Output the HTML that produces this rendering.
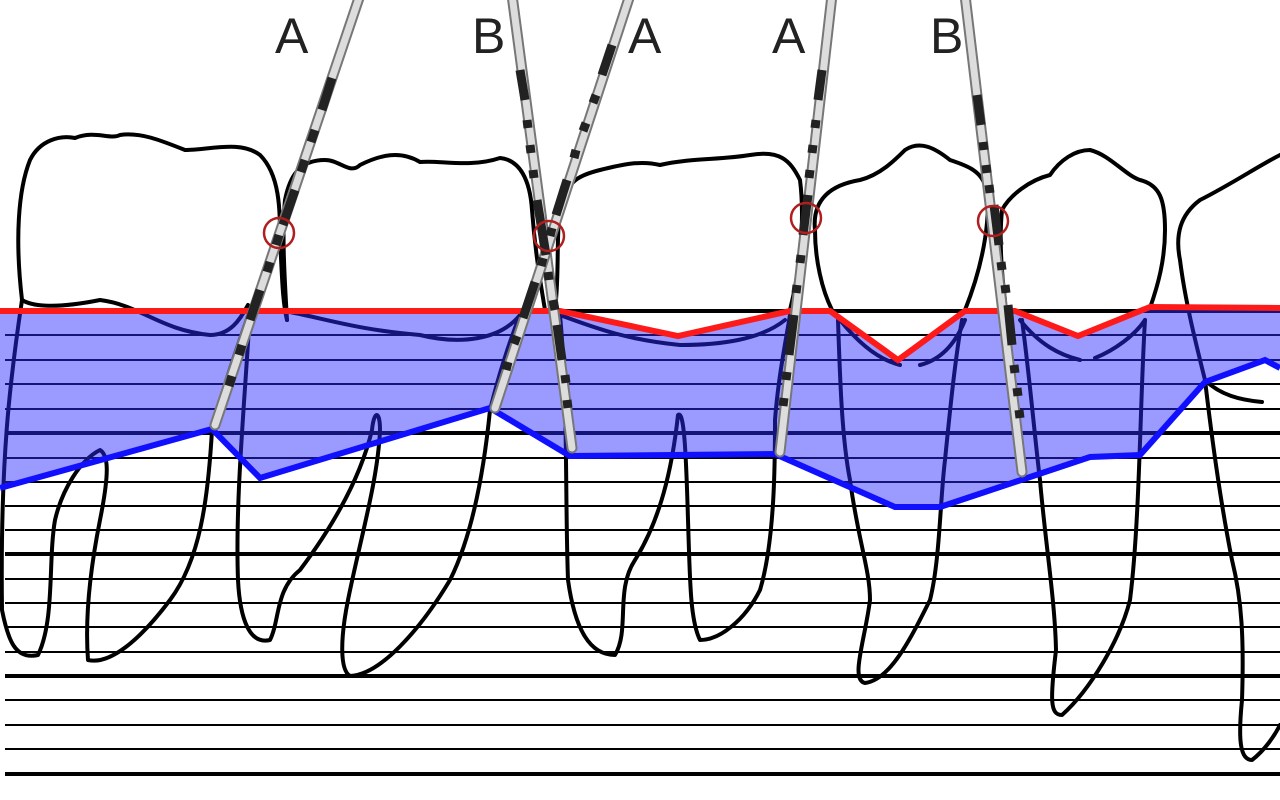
<!DOCTYPE html>
<html><head><meta charset="utf-8"><style>html,body{margin:0;padding:0;background:#fff;width:1280px;height:800px;overflow:hidden}</style></head>
<body>
<svg width="1280" height="800" viewBox="0 0 1280 800" xmlns="http://www.w3.org/2000/svg">
<g stroke="#000" stroke-width="2">
<line x1="5" y1="335" x2="1280" y2="335"/><line x1="5" y1="360" x2="1280" y2="360"/><line x1="5" y1="384" x2="1280" y2="384"/><line x1="5" y1="409" x2="1280" y2="409"/>
<line x1="5" y1="458" x2="1280" y2="458"/><line x1="5" y1="482" x2="1280" y2="482"/><line x1="5" y1="506" x2="1280" y2="506"/><line x1="5" y1="530" x2="1280" y2="530"/>
<line x1="5" y1="579" x2="1280" y2="579"/><line x1="5" y1="603" x2="1280" y2="603"/><line x1="5" y1="627" x2="1280" y2="627"/><line x1="5" y1="652" x2="1280" y2="652"/>
<line x1="5" y1="700" x2="1280" y2="700"/><line x1="5" y1="725" x2="1280" y2="725"/><line x1="5" y1="749" x2="1280" y2="749"/>
</g>
<g stroke="#000" stroke-width="4">
<line x1="5" y1="311" x2="1280" y2="311"/><line x1="5" y1="433" x2="1280" y2="433"/><line x1="5" y1="554" x2="1280" y2="554"/><line x1="5" y1="676" x2="1280" y2="676"/><line x1="5" y1="774" x2="1280" y2="774"/>
</g>
<g fill="none" stroke="#000" stroke-width="4" stroke-linejoin="round" stroke-linecap="round">
<path d="M22,300 C15,240 18,190 30,160 C40,140 60,135 75,138 C95,130 110,140 120,135 C140,132 160,140 185,150 C210,150 240,140 260,155 C280,175 280,210 280,240 C282,270 282,300 287,320"/>
<path d="M22,300 C30,305 50,310 100,300 C140,305 160,330 210,335 C230,335 240,320 248,305"/>
<path d="M22,300 C10,380 0,460 2,610 C8,640 15,660 38,655 C55,620 48,560 55,520 C62,490 80,460 100,450 C108,455 110,470 100,520 C90,570 85,620 88,660 C110,665 140,640 170,600 C200,560 208,500 212,430 C225,380 240,340 250,310"/>
<path d="M287,320 C284,270 282,230 285,200 C290,175 300,160 325,160 C340,160 350,175 360,165 C380,155 400,150 420,162 C440,160 470,168 500,158 C520,160 530,180 532,210 C535,250 540,280 545,310"/>
<path d="M290,312 C330,320 360,330 420,335 C460,345 500,340 520,315"/>
<path d="M250,310 C245,400 235,500 238,580 C240,620 250,645 270,640 C280,620 275,590 300,570 C330,530 360,480 372,430 C374,410 380,410 380,430 C378,480 360,540 348,600 C340,640 340,670 350,676 C380,675 420,630 450,580 C475,530 485,460 490,410 C500,370 510,340 520,315"/>
<path d="M555,310 C560,270 555,230 562,200 C570,180 580,175 600,170 C620,165 640,160 660,165 C690,158 720,160 750,155 C780,150 790,160 800,180 C805,220 800,270 790,310"/>
<path d="M560,315 C600,330 630,340 680,345 C720,345 760,340 785,320"/>
<path d="M560,315 C568,400 565,500 568,580 C575,630 590,655 615,655 C630,630 615,590 635,560 C660,520 672,470 678,415 C684,410 686,450 688,520 C690,580 690,620 700,640 C720,640 745,620 760,590 C775,540 775,460 775,420 C778,380 785,345 790,315"/>
<path d="M832,310 C822,290 815,260 815,230 C812,200 830,185 860,180 C880,175 895,160 905,150 C920,140 935,148 950,160 C965,165 980,170 985,185 C992,210 985,260 965,310"/>
<path d="M840,320 C860,345 880,360 900,365 M920,365 C940,360 955,345 965,320"/>
<path d="M838,320 C840,380 842,440 850,480 C858,540 870,570 870,600 C865,640 850,680 865,683 C890,680 910,640 930,600 C940,560 940,500 945,460 C950,410 955,360 962,320"/>
<path d="M1005,300 C1000,260 1000,230 1002,210 C1010,195 1030,180 1050,175 C1060,160 1075,150 1090,150 C1110,155 1125,175 1140,180 C1160,185 1165,200 1165,230 C1165,260 1158,285 1150,308"/>
<path d="M1020,320 C1040,345 1060,355 1080,360 M1095,358 C1115,350 1135,335 1145,320"/>
<path d="M1022,320 C1030,380 1035,440 1040,480 C1045,540 1055,600 1056,650 C1050,700 1050,715 1062,715 C1090,690 1120,640 1130,600 C1140,520 1140,400 1145,320"/>
<path d="M1280,155 C1260,165 1230,185 1200,200 C1180,215 1175,235 1180,260 C1185,300 1195,340 1205,380 C1212,440 1220,500 1232,560 C1242,600 1244,640 1242,700 C1238,740 1240,760 1252,760 C1265,750 1275,735 1280,725"/>
<path d="M1205,380 C1220,395 1240,400 1262,402"/>
</g>
<path d="M0,311 L560,311 L678,336 L790,311 L830,311 L898,360 L965,311 L1015,311 L1078,336 L1150,307 L1280,308 L1280,368 L1265,360 L1205,382 L1140,455 L1090,457 L940,507 L895,507 L775,454 L570,456 L490,408 L260,478 L212,429 L0,488 Z" fill="rgb(40,40,255)" fill-opacity="0.47"/>
<polyline points="0,311 560,311 678,336 790,311 830,311 898,360 965,311 1015,311 1078,336 1150,307 1280,308" fill="none" stroke="#ff1a1a" stroke-width="6"/>
<polyline points="0,488 212,429 260,478 490,408 570,456 775,454 895,507 940,507 1090,457 1140,455 1205,382 1265,360 1280,368" fill="none" stroke="#1010ff" stroke-width="6"/>
<g stroke-linecap="round">
<line x1="360" y1="-5" x2="215" y2="425" stroke="#777" stroke-width="11"/><line x1="360" y1="-5" x2="215" y2="425" stroke="#ddd" stroke-width="7"/>
<line x1="512" y1="-5" x2="572" y2="448" stroke="#777" stroke-width="11"/><line x1="512" y1="-5" x2="572" y2="448" stroke="#ddd" stroke-width="7"/>
<line x1="630" y1="-5" x2="495" y2="408" stroke="#777" stroke-width="11"/><line x1="630" y1="-5" x2="495" y2="408" stroke="#ddd" stroke-width="7"/>
<line x1="832" y1="-5" x2="780" y2="452" stroke="#777" stroke-width="11"/><line x1="832" y1="-5" x2="780" y2="452" stroke="#ddd" stroke-width="7"/>
<line x1="965" y1="-5" x2="1022" y2="472" stroke="#777" stroke-width="11"/><line x1="965" y1="-5" x2="1022" y2="472" stroke="#ddd" stroke-width="7"/>
</g>
<g stroke="#222" stroke-width="9" stroke-linecap="butt">
<line x1="332" y1="78" x2="322" y2="110"/><line x1="315" y1="130" x2="311" y2="142"/><line x1="305" y1="160" x2="301" y2="172"/><line x1="295" y1="190" x2="283" y2="225"/><line x1="279" y1="235" x2="276" y2="245"/><line x1="270" y1="262" x2="267" y2="272"/><line x1="260" y1="290" x2="250" y2="320"/><line x1="242" y1="345" x2="239" y2="355"/><line x1="232" y1="376" x2="229" y2="386"/>
<line x1="520" y1="70" x2="525" y2="100"/><line x1="527" y1="120" x2="528" y2="128"/><line x1="530" y1="145" x2="531" y2="153"/><line x1="533" y1="170" x2="534" y2="178"/><line x1="537" y1="200" x2="546" y2="255"/><line x1="548" y1="272" x2="549" y2="280"/><line x1="553" y1="300" x2="555" y2="310"/><line x1="557" y1="325" x2="562" y2="360"/><line x1="565" y1="375" x2="566" y2="383"/><line x1="567" y1="400" x2="568" y2="408"/>
<line x1="612" y1="45" x2="602" y2="75"/><line x1="596" y1="95" x2="593" y2="103"/><line x1="586" y1="123" x2="583" y2="131"/><line x1="576" y1="150" x2="574" y2="158"/><line x1="567" y1="180" x2="556" y2="215"/><line x1="552" y1="228" x2="550" y2="236"/><line x1="543" y1="258" x2="541" y2="266"/><line x1="535" y1="282" x2="523" y2="318"/><line x1="517" y1="336" x2="514" y2="344"/><line x1="508" y1="362" x2="506" y2="370"/>
<line x1="822" y1="70" x2="818" y2="100"/><line x1="816" y1="120" x2="815" y2="128"/><line x1="813" y1="145" x2="812" y2="153"/><line x1="810" y1="170" x2="809" y2="178"/><line x1="808" y1="195" x2="803" y2="235"/><line x1="801" y1="255" x2="800" y2="263"/><line x1="797" y1="285" x2="796" y2="293"/><line x1="794" y1="315" x2="789" y2="355"/><line x1="787" y1="372" x2="786" y2="380"/><line x1="784" y1="398" x2="783" y2="406"/>
<line x1="977" y1="95" x2="981" y2="125"/><line x1="983" y1="142" x2="984" y2="150"/><line x1="986" y1="165" x2="987" y2="173"/><line x1="989" y1="185" x2="990" y2="193"/><line x1="994" y1="205" x2="999" y2="245"/><line x1="1001" y1="262" x2="1002" y2="270"/><line x1="1005" y1="285" x2="1006" y2="293"/><line x1="1008" y1="305" x2="1012" y2="345"/><line x1="1014" y1="365" x2="1015" y2="373"/><line x1="1017" y1="388" x2="1018" y2="396"/><line x1="1019" y1="410" x2="1020" y2="418"/>
</g>
<g fill="none" stroke="#b01e1e" stroke-width="2.5">
<circle cx="279" cy="233" r="15"/><circle cx="549" cy="236" r="15"/><circle cx="806" cy="218" r="15"/><circle cx="993" cy="221" r="15"/>
</g>
<g font-family="Liberation Sans, sans-serif" font-size="50" fill="#222">
<text x="275" y="53">A</text><text x="472" y="53">B</text><text x="628" y="53">A</text><text x="772" y="53">A</text><text x="930" y="53">B</text>
</g>
</svg>
</body></html>
